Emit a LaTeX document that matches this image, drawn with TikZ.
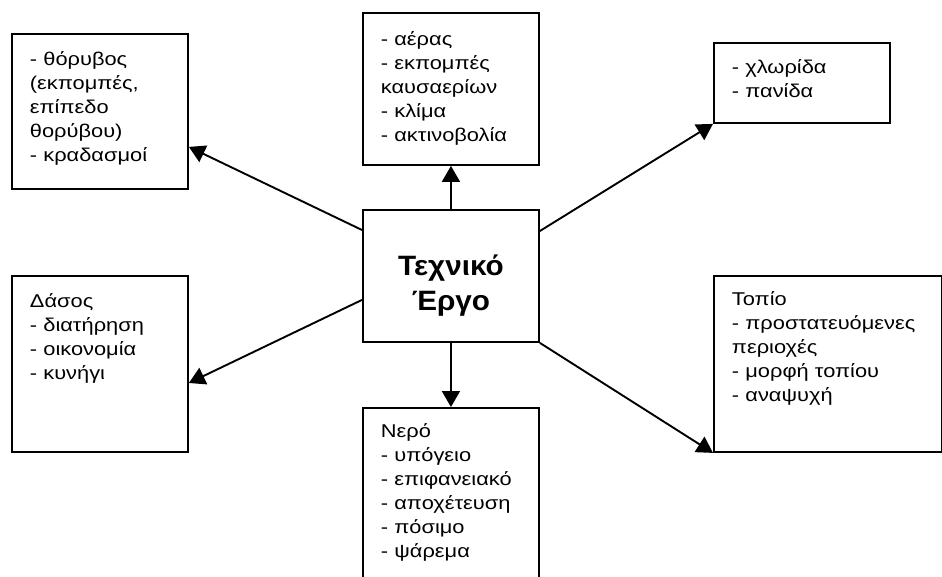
\documentclass[tikz,border=0pt]{standalone}
\usepackage{fontspec}
\setmainfont{Liberation Sans}[FakeStretch=1.18, BoldFeatures={FakeStretch=1.06}]
\usetikzlibrary{positioning}
\usetikzlibrary{arrows.meta}
\tikzset{
	every path/.style={line width=1.9pt},
	infobox/.style={draw, anchor=north west, align=left, inner xsep=18pt, inner ysep=0pt, font=\fontsize{18.5}{24}\selectfont},
	workbox/.style={draw, anchor=north west, align=center, inner sep=0pt, font=\fontsize{28}{35}\selectfont\bfseries},
	link/.style={-{Triangle[length=16pt,width=18pt]}},
}

\begin{document}
\begin{tikzpicture}[x=1pt,y=-1pt]

		\useasboundingbox (0,0) rectangle (942,576);

		% central box.....................
		\node [workbox, text width=176pt, text height=66pt, text depth=66pt] (work) at (362,209) {Τεχνικό\\Έργο};

		% upper row......................
		\node [infobox, text width=140pt, text height=32pt, text depth=123pt] (noise) at (11,33)
			{- θόρυβος\\(εκπομπές,\\επίπεδο\\θορύβου)\\- κραδασμοί};
		\node [infobox, text width=140pt, text height=33pt, text depth=119pt] (air) at (362,12)
			{- αέρας\\- εκπομπές\\καυσαερίων\\- κλίμα\\- ακτινοβολία};
		\node [infobox, text width=140pt, text height=31pt, text depth=49pt] (flora) at (713,42)
			{- χλωρίδα\\- πανίδα};

		% lower row......................
		\node [infobox, text width=140pt, text height=32pt, text depth=144pt] (forest) at (11,275)
			{Δάσος\\- διατήρηση\\- οικονομία\\- κυνήγι};
		\node [infobox, text width=140pt, text height=30pt, text depth=141pt] (water) at (362,407)
			{Νερό\\- υπόγειο\\- επιφανειακό\\- αποχέτευση\\- πόσιμο\\- ψάρεμα};
		\node [infobox, text width=192pt, text height=30pt, text depth=146pt] (landscape) at (713,275)
			{Τοπίο\\- προστατευόμενες\\περιοχές\\- μορφή τοπίου\\- αναψυχή};

		% arrows.............................
		\draw [link] (work.north) to (air.south);
		\draw [link] (work.south) to (water.north);
		\draw [link] ([yshift=-21pt]work.north west) to ([yshift=43pt]noise.south east);
		\draw [link] ([yshift=43pt]work.south west) to ([yshift=-108pt]forest.north east);
		\draw [link] ([yshift=-22pt]work.north east) to (flora.south west);
		\draw [link] (work.south east) to (landscape.south west);

	\end{tikzpicture}
\end{document}
